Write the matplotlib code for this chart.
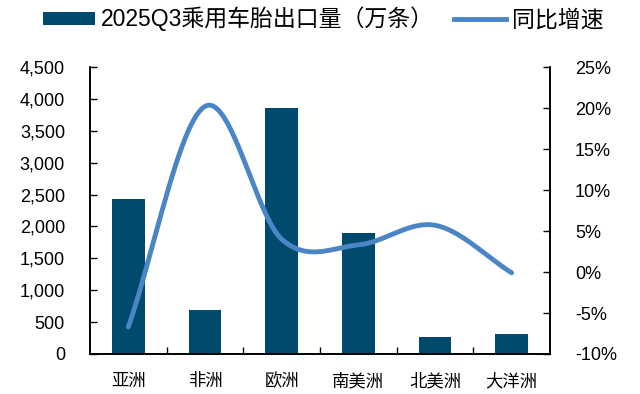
import numpy as np
import matplotlib
matplotlib.use("Agg")
import matplotlib.pyplot as plt
from matplotlib.patches import Patch
from matplotlib.lines import Line2D
from matplotlib.ticker import FuncFormatter, MultipleLocator, FixedLocator

plt.rcParams['font.family'] = ['Liberation Sans', 'Noto Sans CJK SC', 'DejaVu Sans']

regions = ['亚洲', '非洲', '欧洲', '南美洲', '北美洲', '大洋洲']
exports = [2430, 690, 3850, 1900, 270, 310]          # 万条
growth = [-6.7, 20.2, 4.0, 3.3, 5.7, -0.1]           # %

bar_color = '#004a6e'
line_color = '#4a86c5'


def smooth_curve(x, y, n=40):
    """Catmull-Rom spline through the points, for a smoothed line."""
    x = np.asarray(x, float)
    y = np.asarray(y, float)
    px = np.concatenate([[2 * x[0] - x[1]], x, [2 * x[-1] - x[-2]]])
    py = np.concatenate([[2 * y[0] - y[1]], y, [2 * y[-1] - y[-2]]])
    xs, ys = [], []
    for i in range(1, len(px) - 2):
        t = np.linspace(0, 1, n, endpoint=(i == len(px) - 3))
        for p, out in ((px, xs), (py, ys)):
            p0, p1, p2, p3 = p[i - 1], p[i], p[i + 1], p[i + 2]
            out.append(0.5 * ((2 * p1) + (-p0 + p2) * t
                              + (2 * p0 - 5 * p1 + 4 * p2 - p3) * t ** 2
                              + (-p0 + 3 * p1 - 3 * p2 + p3) * t ** 3))
    return np.concatenate(xs), np.concatenate(ys)


fig = plt.figure(figsize=(6.4, 3.94), dpi=100)
ax = fig.add_axes([90 / 640, 1 - 354 / 394, 460 / 640, 287 / 394])
ax2 = ax.twinx()

x = np.arange(len(regions))
ax.bar(x, exports, width=0.43, color=bar_color, zorder=2)
ax.set_xlim(-0.5, len(regions) - 0.5)
ax.set_ylim(0, 4500)
ax.yaxis.set_major_locator(MultipleLocator(500))
ax.yaxis.set_major_formatter(FuncFormatter(lambda v, p: f'{v:,.0f}'))
ax.set_xticks(x)
ax.set_xticklabels(regions, fontsize=12.5, family=['Noto Sans CJK SC'])
ax.xaxis.set_minor_locator(FixedLocator(np.arange(0.5, len(regions) - 1, 1.0)))
ax.tick_params(axis='x', which='major', length=0, pad=13)
ax.tick_params(axis='x', which='minor', direction='in', length=5, width=1)
ax.tick_params(axis='y', direction='in', length=5, width=1, labelsize=13, pad=18)

sx, sy = smooth_curve(x, growth)
ax2.plot(sx, sy, color=line_color, lw=3.5, solid_capstyle='round', zorder=3)
ax2.set_ylim(-10, 25)
ax2.yaxis.set_major_locator(MultipleLocator(5))
ax2.yaxis.set_major_formatter(FuncFormatter(lambda v, p: f'{v:.0f}%'))
ax2.tick_params(axis='y', direction='in', length=5, width=1, labelsize=13, pad=18)

for a in (ax, ax2):
    a.spines['top'].set_visible(False)
    for s in a.spines.values():
        s.set_linewidth(1.2)

handles = [Patch(facecolor=bar_color, edgecolor='none'),
           Line2D([0], [0], color=line_color, lw=3.5)]
labels = ['2025Q3乘用车胎出口量（万条）', '同比增速']
fig.legend(handles, labels, loc='center', bbox_to_anchor=(0.505, 1 - 19 / 394),
           ncol=2, frameon=False, handlelength=2.25,
           handleheight=0.5, handletextpad=0.25, columnspacing=0.9,
           prop={'family': ['Liberation Sans', 'Noto Sans CJK SC'], 'size': 16.5})

fig.savefig('out.png', dpi=100)
